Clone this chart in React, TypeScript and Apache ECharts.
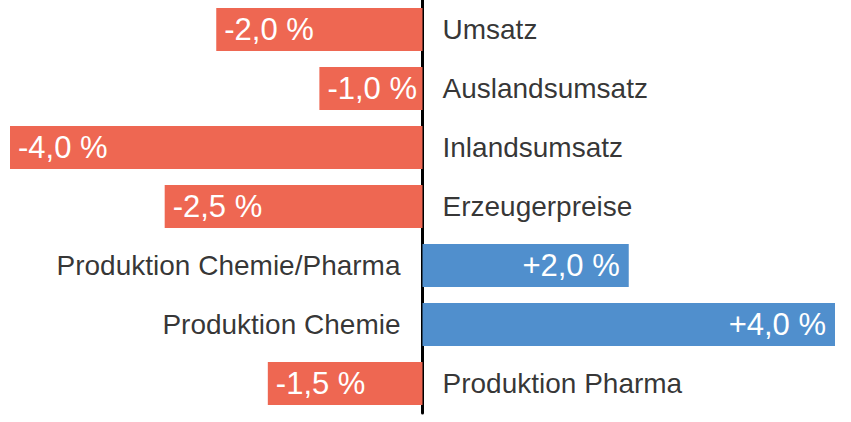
import { useEffect, useRef } from "react";
import * as echarts from "echarts";

const categories = [
  "Umsatz",
  "Auslandsumsatz",
  "Inlandsumsatz",
  "Erzeugerpreise",
  "Produktion Chemie/Pharma",
  "Produktion Chemie",
  "Produktion Pharma",
];
const changes = [-2.0, -1.0, -4.0, -2.5, 2.0, 4.0, -1.5];

const RED = "#EE6752";
const BLUE = "#508FCD";
const FONT = "'Liberation Sans', Arial, sans-serif";

const fmt = (v: number) => (v > 0 ? "+" : "") + v.toFixed(1).replace(".", ",") + " %";

export default function App() {
  const chartRef = useRef<HTMLDivElement | null>(null);

  useEffect(() => {
    document.body.style.margin = "0";
    if (!chartRef.current) return;
    const chart = echarts.init(chartRef.current, null, { renderer: "svg" });

    chart.setOption({
      animation: false,
      grid: { left: 10, right: 16, top: 0, bottom: 9 },
      xAxis: {
        type: "value",
        min: -4,
        max: 4,
        show: false,
        splitLine: { show: false },
      },
      yAxis: {
        type: "category",
        data: categories,
        inverse: true,
        axisLine: { show: true, onZero: true, lineStyle: { color: "#000", width: 3 } },
        axisTick: { show: false },
        axisLabel: { show: false },
        splitLine: { show: false },
      },
      series: [
        {
          type: "bar",
          barWidth: 43,
          data: changes.map((v) => ({
            value: v,
            itemStyle: { color: v < 0 ? RED : BLUE },
            label: {
              show: true,
              position: v < 0 ? "insideLeft" : "insideRight",
              distance: v < 0 ? 8 : 9,
              formatter: () => fmt(v),
              color: "#fff",
              fontSize: 31,
              fontFamily: FONT,
            },
          })),
        },
        {
          type: "scatter",
          symbolSize: 0,
          silent: true,
          z: 5,
          data: categories.map((c, i) => ({
            value: [0, c],
            label: {
              show: true,
              position: changes[i] < 0 ? "right" : "left",
              distance: changes[i] < 0 ? 20 : 22,
              formatter: c,
              color: "#000",
              fontSize: 28,
              fontFamily: FONT,
            },
          })),
        },
      ],
    });

    return () => {
      chart.dispose();
    };
  }, []);

  return <div ref={chartRef} style={{ width: 851, height: 422 }} />;
}
